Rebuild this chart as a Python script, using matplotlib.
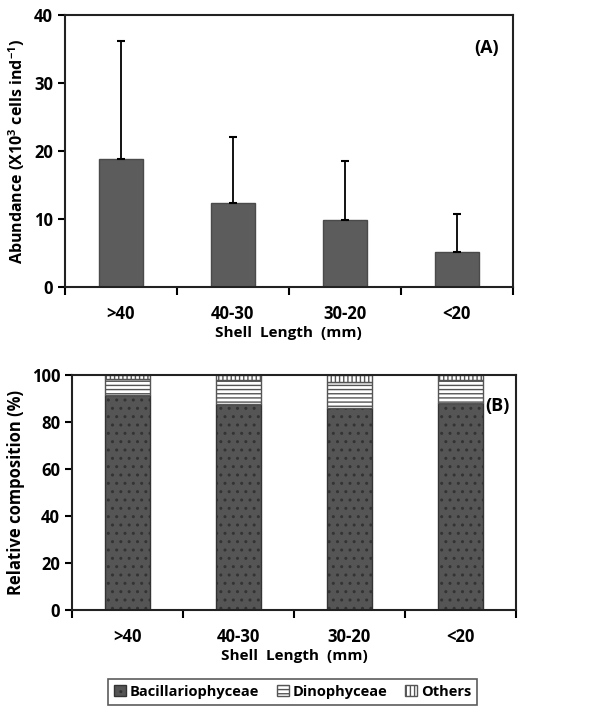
import numpy as np
import matplotlib.pyplot as plt
import matplotlib as mpl

# =========================
# Data
# =========================
size_classes = [">40", "40-30", "30-20", "<20"]

# Panel A: mean abundance and SD (upper error only)
abundance = [18.8, 12.4, 9.8, 5.2]
abundance_sd = [17.4, 9.7, 8.8, 5.6]

# Panel B: relative composition (%)
bacillariophyceae = [91.5, 88.0, 86.2, 88.2]
dinophyceae = [7.0, 10.2, 11.0, 10.0]
others = [1.5, 1.8, 2.8, 1.8]

FONT = "Open Sans"
plt.rcParams["font.family"] = [FONT, "DejaVu Sans"]
plt.rcParams["font.weight"] = "bold"
plt.rcParams["mathtext.fontset"] = "custom"
plt.rcParams["mathtext.rm"] = FONT + ":bold"
plt.rcParams["mathtext.it"] = FONT + ":bold"
plt.rcParams["mathtext.bf"] = FONT + ":bold"
plt.rcParams["hatch.linewidth"] = 1.0


def style_axis(ax, ymax, ystep):
    x = np.arange(len(size_classes))
    ax.set_xlim(-0.5, len(size_classes) - 0.5)
    ax.set_ylim(0, ymax)
    ax.set_yticks(np.arange(0, ymax + 1, ystep))
    ax.set_xticks(x)
    ax.set_xticklabels(size_classes)
    ax.set_xticks(np.arange(-0.5, len(size_classes)), minor=True)
    ax.tick_params(axis="x", which="major", length=0, pad=13, labelsize=12)
    ax.tick_params(axis="x", which="minor", length=6, width=1.5, direction="out")
    ax.tick_params(axis="y", length=5, width=1.5, direction="out", labelsize=12)
    for lab in ax.get_xticklabels() + ax.get_yticklabels():
        lab.set_fontweight("bold")
    for sp in ax.spines.values():
        sp.set_linewidth(1.5)
        sp.set_color("#222222")
    ax.set_xlabel("Shell  Length  (mm)", fontsize=11, fontweight="bold", labelpad=2)


fig = plt.figure(figsize=(6.15, 7.09), dpi=100)

# ---------- Panel A ----------
ax1 = fig.add_axes([0.1057, 0.595, 0.728, 0.384])
x = np.arange(len(size_classes))
ax1.bar(x, abundance, width=0.39, color="#5c5c5c", edgecolor="#4a4a4a",
        linewidth=1.0, zorder=2)
ax1.errorbar(x, abundance, yerr=[np.zeros(len(abundance)), abundance_sd],
             fmt="none", ecolor="black", elinewidth=1.3, capsize=3,
             capthick=1.5, zorder=3)
style_axis(ax1, 40, 10)
ax1.set_ylabel("Abundance (X10$^3$ cells ind$^{-1}$)", fontsize=11.5,
               fontweight="bold", labelpad=5)
ax1.text(0.97, 0.88, "(A)", transform=ax1.transAxes, ha="right", va="center",
         fontsize=13, fontweight="bold")

# ---------- Panel B ----------
ax2 = fig.add_axes([0.117, 0.1396, 0.722, 0.331])
bac = np.array(bacillariophyceae)
din = np.array(dinophyceae)
oth = np.array(others)
w = 0.4
mpl.rcParams["hatch.color"] = "#9a9a9a"
ax2.bar(x, bac, width=w, color="#555555", edgecolor="#333333", hatch="..",
        linewidth=1.0, label="Bacillariophyceae", zorder=2)
ax2.bar(x, din, width=w, bottom=bac, color="white", edgecolor="#555555",
        hatch="----", linewidth=1.0, label="Dinophyceae", zorder=2)
ax2.bar(x, oth, width=w, bottom=bac + din, color="white", edgecolor="#555555",
        hatch="||||", linewidth=1.0, label="Others", zorder=2)
style_axis(ax2, 100, 20)
ax2.set_ylabel("Relative composition (%)", fontsize=12, fontweight="bold",
               labelpad=5)
ax2.text(0.985, 0.87, "(B)", transform=ax2.transAxes, ha="right", va="center",
         fontsize=13, fontweight="bold")

leg = fig.legend(loc="center", bbox_to_anchor=(0.476, 0.024), ncol=3,
                 prop={"size": 10.5, "weight": "bold"}, frameon=True,
                 fancybox=False, edgecolor="#333333",
                 handlelength=0.8, handleheight=0.8, handletextpad=0.3,
                 columnspacing=1.2, borderpad=0.4)
leg.get_frame().set_linewidth(1.2)

fig.savefig("out.png", dpi=100)
